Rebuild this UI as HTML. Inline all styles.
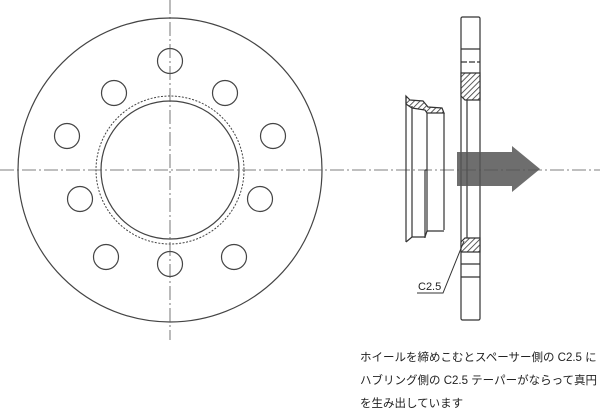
<!DOCTYPE html>
<html><head><meta charset="utf-8"><style>
body{margin:0;background:#fff}
svg{display:block}
text{font-family:"Liberation Sans","Noto Sans CJK JP",sans-serif;fill:#222}
</style></head><body>
<svg width="600" height="408" viewBox="0 0 600 408" xmlns="http://www.w3.org/2000/svg">
<defs>
<pattern id="h" width="4" height="4" patternUnits="userSpaceOnUse" patternTransform="rotate(45)">
<rect width="4" height="4" fill="#fff"/><line x1="0" y1="0" x2="0" y2="4" stroke="#333" stroke-width="1.6"/>
</pattern>
</defs>
<g fill="none" stroke="#444" stroke-width="1.2">
<circle cx="170" cy="170" r="152"/>
<circle cx="170" cy="170" r="69"/>
<circle cx="170" cy="170" r="74" stroke-dasharray="2,1.5" stroke-width="1"/>
<circle cx="170" cy="61" r="12.5"/>
<circle cx="114" cy="93" r="12.5"/>
<circle cx="225" cy="93" r="12.5"/>
<circle cx="67" cy="136" r="12.5"/>
<circle cx="273" cy="136" r="12.5"/>
<circle cx="80" cy="199" r="12.5"/>
<circle cx="260" cy="199" r="12.5"/>
<circle cx="106" cy="257" r="12.5"/>
<circle cx="234" cy="257" r="12.5"/>
<circle cx="170" cy="264" r="12.5"/>
</g>
<g stroke="#555" stroke-width="0.8" stroke-dasharray="14,3,2,3" fill="none">
<line x1="0" y1="170" x2="600" y2="170"/>
<line x1="170" y1="0" x2="170" y2="340"/>
</g>
<!-- hub ring -->
<g fill="none" stroke="#333" stroke-width="1.2">
<polygon points="406,96 410,100 423,101 428,107 442,108 444,113 427,113 425,110 412,108 406,104" fill="url(#h)"/>
<line x1="406" y1="96" x2="406" y2="242"/>
<line x1="412" y1="106" x2="412" y2="237"/>
<line x1="427" y1="113" x2="427" y2="170"/>
<line x1="425" y1="170" x2="425" y2="238"/>
<line x1="425" y1="170" x2="427" y2="170"/>
<line x1="427" y1="170" x2="427" y2="232"/>
<line x1="444" y1="113" x2="444" y2="230"/>
<polyline points="406,242 412,237 425,237 427,231 444,231"/>
</g>
<!-- spacer plate -->
<g fill="none" stroke="#333" stroke-width="1.2">
<rect x="461" y="17" width="19" height="303" rx="1.5"/>
<line x1="461" y1="49" x2="480" y2="49"/>
<line x1="461" y1="62" x2="480" y2="62" stroke-dasharray="6,2"/>
<polygon points="461,73 480,73 480,100 465,100 461,96" fill="url(#h)"/>
<polygon points="465,238 480,238 480,252 461,252 461,242" fill="url(#h)"/>
<line x1="467" y1="100" x2="467" y2="238"/>
<line x1="461" y1="264" x2="480" y2="264"/>
<line x1="461" y1="277" x2="480" y2="277"/>
<polyline points="417,293 443,293 464,241" stroke-width="1"/>
</g>
<text x="418" y="290" font-size="11" font-family="Liberation Mono">C2.5</text>
<!-- arrow -->
<polygon points="457,152 512,152 512,146 540,169 512,192 512,186 457,186" fill="#555" fill-opacity="0.85"/>
<text x="360" y="361" font-size="11.5">ホイールを締めこむとスペーサー側の C2.5 に</text>
<text x="360" y="384" font-size="11.5">ハブリング側の C2.5 テーパーがならって真円</text>
<text x="360" y="407" font-size="11.5">を生み出しています</text>
</svg>
</body></html>
